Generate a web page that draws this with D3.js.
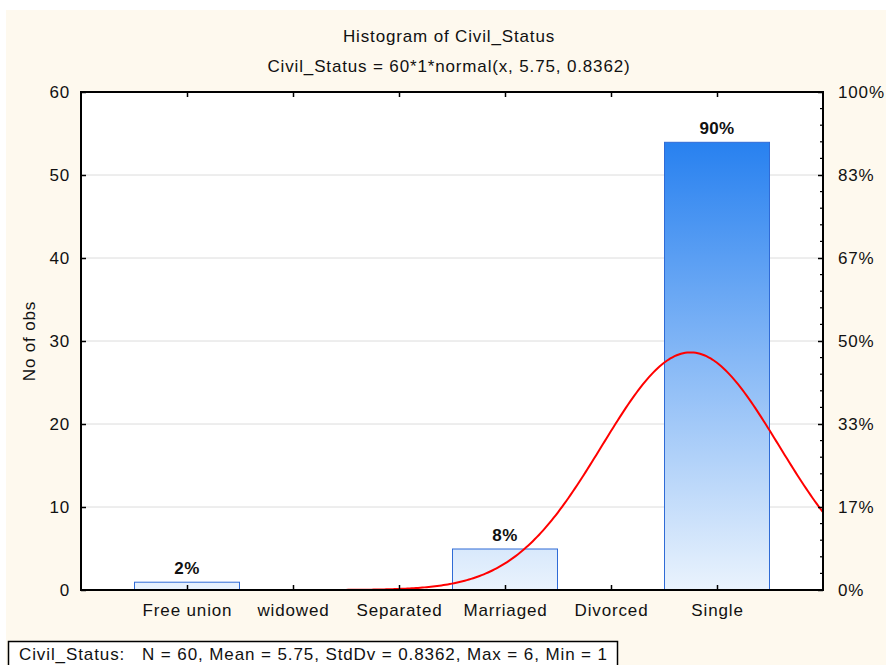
<!DOCTYPE html>
<html><head><meta charset="utf-8">
<script src="https://cdn.jsdelivr.net/npm/d3@7"></script>
<style>
html,body{margin:0;padding:0;background:#fff;}
svg text{font-family:"Liberation Sans",Arial,sans-serif;fill:#111;}
</style></head>
<body>
<script>
// ---- data ----
const categories = ["Free union","widowed","Separated","Marriaged","Divorced","Single"];
const counts = [1, 0, 0, 5, 0, 54];
const leftTicks = [0, 10, 20, 30, 40, 50, 60];
const rightTickLabels = ["0%","17%","33%","50%","67%","83%","100%"];
const titleText = "Histogram of  Civil_Status";
const subtitleText = "Civil_Status = 60*1*normal(x, 5.75, 0.8362)";
const statsText = "Civil_Status:   N = 60, Mean = 5.75, StdDv = 0.8362, Max = 6, Min = 1";
const fitN = 60, fitWidth = 1, fitMean = 5.75, fitSd = 0.8362;

// ---- layout ----
const W = 886, H = 665;
const L = 81, R = 823, T = 92, B = 590;
const FS = 17, LS = "0.85px";

const svg = d3.select("body").append("svg").attr("width", W).attr("height", H);
const defs = svg.append("defs");
const grad = defs.append("linearGradient").attr("id","barGrad")
  .attr("gradientUnits","userSpaceOnUse").attr("x1",0).attr("x2",0).attr("y1",B).attr("y2",T);
grad.append("stop").attr("offset","0%").attr("stop-color","#eaf3fd");
grad.append("stop").attr("offset","100%").attr("stop-color","#1274ee");
defs.append("clipPath").attr("id","plotClip").append("rect")
  .attr("x",L).attr("y",T).attr("width",R-L).attr("height",B-T);

// background
svg.append("rect").attr("x",6).attr("y",10).attr("width",W-6).attr("height",H-10).attr("fill","#fef9ee");
svg.append("rect").attr("x",L).attr("y",T).attr("width",R-L).attr("height",B-T).attr("fill","#fff");

const x = d3.scaleLinear().domain([0, categories.length + 1]).range([L, R]);
const y = d3.scaleLinear().domain([0, 60]).range([B, T]);

// gridlines
svg.append("g").selectAll("line").data(leftTicks.slice(1, -1)).join("line")
  .attr("x1", L).attr("x2", R).attr("y1", d => y(d)).attr("y2", d => y(d))
  .attr("stroke", "#dcdcdc").attr("stroke-width", 1);

// bars
const bars = categories.map((c, i) => ({c, v: counts[i], pos: i + 1})).filter(d => d.v > 0);
svg.append("g").selectAll("rect").data(bars).join("rect")
  .attr("x", d => x(d.pos - 0.5) + 0.5).attr("width", x(1) - x(0) - 1)
  .attr("y", d => y(d.v) + 0.5).attr("height", d => y(0) - y(d.v) - 0.5)
  .attr("fill", "url(#barGrad)").attr("stroke", "#2f6bd6").attr("stroke-width", 1);

// bar labels
const total = d3.sum(counts);
svg.append("g").selectAll("text").data(bars).join("text")
  .attr("x", d => x(d.pos)).attr("y", d => y(d.v) - 8)
  .attr("text-anchor", "middle").attr("font-size", FS).attr("font-weight", "bold").attr("letter-spacing", "0.4px")
  .text(d => Math.round(d.v / total * 100) + "%");

// fitted normal curve
const fit = t => fitN * fitWidth * Math.exp(-((t - fitMean) ** 2) / (2 * fitSd * fitSd)) / (fitSd * Math.sqrt(2 * Math.PI));
const xs = d3.range(0, categories.length + 1 + 0.001, 0.02);
svg.append("path").attr("clip-path", "url(#plotClip)")
  .attr("d", d3.line().x(t => x(t)).y(t => y(fit(t)))(xs))
  .attr("fill", "none").attr("stroke", "#ff0000").attr("stroke-width", 2);

// axes
const yLeft = d3.axisLeft(y).tickValues(leftTicks).tickSize(-5).tickPadding(11);
const gl = svg.append("g").attr("transform", `translate(${L},0)`).call(yLeft);
const yRight = d3.axisRight(y).tickValues(leftTicks).tickSize(-5).tickPadding(15)
  .tickFormat((d, i) => rightTickLabels[i]);
const gr = svg.append("g").attr("transform", `translate(${R},0)`).call(yRight);
const minor = d3.range(0, 61, 2).filter(v => v % 10 !== 0);
svg.append("g").selectAll("line").data(minor).join("line")
  .attr("x1", R - 3).attr("x2", R).attr("y1", d => y(d)).attr("y2", d => y(d))
  .attr("stroke", "#000").attr("stroke-width", 1.2);
const catPos = categories.map((c, i) => i + 1);
const xBottom = d3.axisBottom(x).tickValues(catPos).tickSize(-5).tickPadding(14)
  .tickFormat((d, i) => categories[i]);
const gb = svg.append("g").attr("transform", `translate(0,${B})`).call(xBottom);
const xTop = d3.axisTop(x).tickValues(catPos).tickSize(-5).tickFormat("");
const gt = svg.append("g").attr("transform", `translate(0,${T})`).call(xTop);
[gl, gr, gb, gt].forEach(g => {
  g.select(".domain").remove();
  g.selectAll(".tick line").attr("stroke", "#000").attr("stroke-width", 1.5);
  g.selectAll(".tick text").attr("font-size", FS).attr("fill", "#111")
    .attr("font-family", "Liberation Sans, Arial, sans-serif").attr("letter-spacing", LS);
});
// frame
svg.append("rect").attr("x", L).attr("y", T).attr("width", R - L).attr("height", B - T)
  .attr("fill", "none").attr("stroke", "#000").attr("stroke-width", 2);

// titles
svg.append("text").attr("x", 449).attr("y", 42).attr("text-anchor", "middle")
  .attr("font-size", FS).attr("letter-spacing", LS).text(titleText);
svg.append("text").attr("x", 449).attr("y", 72).attr("text-anchor", "middle")
  .attr("font-size", FS).attr("letter-spacing", LS).text(subtitleText);
svg.append("text").attr("transform", "translate(35,341) rotate(-90)").attr("text-anchor", "middle")
  .attr("font-size", FS).attr("letter-spacing", LS).text("No of obs");

// stats box
svg.append("rect").attr("x", 8.5).attr("y", 641.5).attr("width", 609).attr("height", 30)
  .attr("fill", "#fff").attr("stroke", "#000").attr("stroke-width", 1.5);
svg.append("text").attr("x", 19).attr("y", 660).attr("font-size", FS)
  .attr("letter-spacing", "0.9px").style("white-space", "pre").text(statsText);
</script>
</body></html>
